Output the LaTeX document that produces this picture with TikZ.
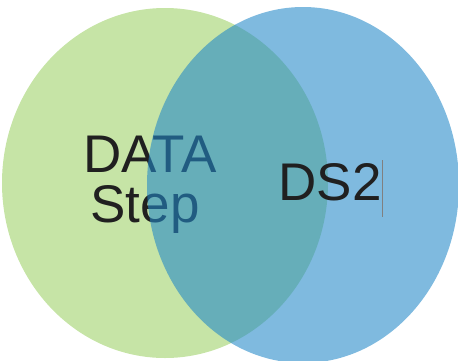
\documentclass[tikz,border=0pt]{standalone}
\usepackage{fontspec}
\setmainfont{Liberation Sans}
\definecolor{vgreen}{RGB}{198,228,166}
\definecolor{vblue}{RGB}{34,136,200}
\definecolor{vtext}{RGB}{32,32,32}
\tikzset{
  lbl/.style={anchor=base, inner sep=0pt, text=vtext, font=\fontsize{53}{60}\selectfont},
}
\begin{document}
\begin{tikzpicture}[x=1pt,y=-1pt]
\useasboundingbox (0,0) rectangle (458,360);
\fill[vgreen] (165,183) ellipse [x radius=163, y radius=175];
\node[lbl] (data) at (150,172) {DATA};
\node[lbl] (step) at (145,222) {Step};
\fill[vblue, fill opacity=0.58] (303,185) ellipse [x radius=156, y radius=178];
\node[lbl] (ds2) at (330,200) {DS2};
\coordinate (c1) at (382,160);
\coordinate (c2) at (382,217);
\draw[gray, line width=0.8pt] (c1) -- (c2);
\end{tikzpicture}
\end{document}
